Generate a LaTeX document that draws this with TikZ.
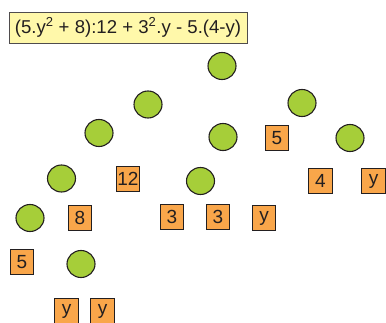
\documentclass[tikz,border=0pt]{standalone}
\usepackage{fontspec}
\setmainfont{Liberation Sans}
\usetikzlibrary{shapes.geometric}
\definecolor{leaf}{HTML}{A6CE39}
\definecolor{tile}{HTML}{F9A64A}
\definecolor{paper}{HTML}{FFF8AA}
\definecolor{ink}{HTML}{231F20}
\tikzset{
  ball/.style={ellipse, draw=ink, line width=1.1pt, fill=leaf, minimum width=28pt, minimum height=27pt, inner sep=0pt},
  tilebox/.style={rectangle, draw=ink, line width=1.1pt, fill=tile, minimum width=23.5pt, minimum height=25pt, inner sep=0pt, font=\fontsize{19}{19}\selectfont, text=ink},
  titlebox/.style={rectangle, draw=ink!80, line width=0.8pt, fill=paper, minimum width=238pt, minimum height=31pt, inner sep=0pt, font=\fontsize{18.6}{18.6}\selectfont, text=ink}
}
\begin{document}
\begin{tikzpicture}[x=1pt,y=-1pt]
\useasboundingbox (0,0) rectangle (386,323);
\node[titlebox] (title) at (128,27.5) {(5.y\textsuperscript{2} + 8):12 + 3\textsuperscript{2}.y - 5.(4-y)};
% circles
\node[ball] (c1) at (222,66) {};
\node[ball] (c2) at (148,104.5) {};
\node[ball] (c3) at (99,133) {};
\node[ball] (c4) at (61.5,178.5) {};
\node[ball] (c5) at (302,103) {};
\node[ball] (c6) at (223,137) {};
\node[ball] (c7) at (350,138) {};
\node[ball] (c8) at (200.5,181) {};
\node[ball] (c9) at (30,218) {};
\node[ball] (c10) at (81,264) {};
% tiles
\node[tilebox] (t12) at (128,179) {12};
\node[tilebox] (t5a) at (277,138) {5};
\node[tilebox] (t4) at (320.5,181) {4};
\node[tilebox] (ty1) at (373.5,181) {y};
\node[tilebox] (t8) at (80,218) {8};
\node[tilebox] (t3a) at (172,217) {3};
\node[tilebox] (t3b) at (218,217) {3};
\node[tilebox] (ty2) at (264,218) {y};
\node[tilebox] (t5b) at (22,262) {5};
\node[tilebox] (ty3) at (66.5,311) {y};
\node[tilebox] (ty4) at (102.5,311) {y};
\end{tikzpicture}
\end{document}
